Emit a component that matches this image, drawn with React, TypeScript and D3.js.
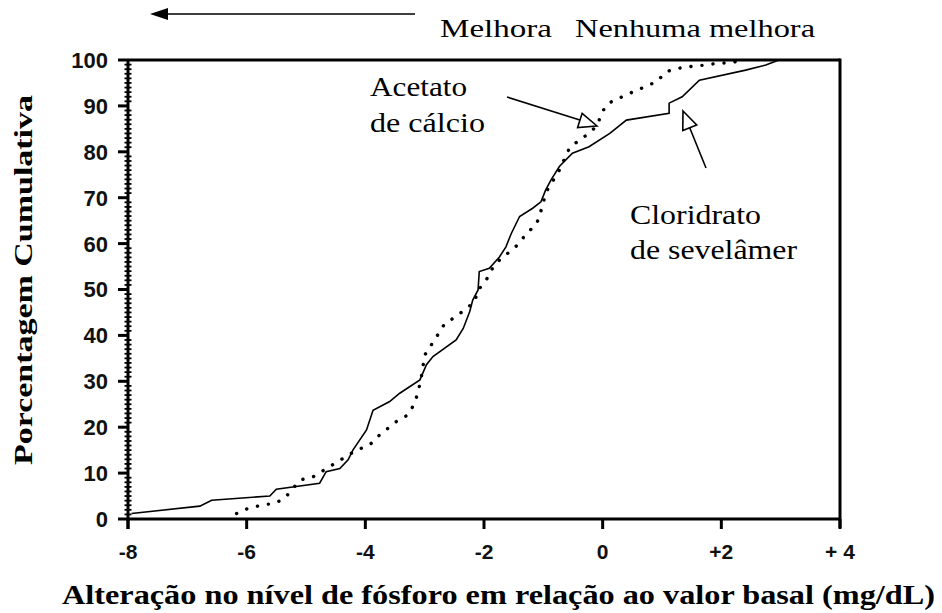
import React from 'react';
import * as d3 from 'd3';

// cloridrato de sevelâmer (solid)
const sevelamerX = [-7.94, -6.79, -6.59, -5.61, -5.5, -4.77, -4.66, -4.43, -4.29, -4.21, -3.98, -3.87, -3.59, -3.42, -3.08, -2.97, -2.86, -2.47, -2.35, -2.24, -2.19, -2.1, -2.08, -1.91, -1.74, -1.63, -1.54, -1.4, -1.18, -1.04, -0.96, -0.87, -0.73, -0.51, -0.23, 0.12, 0.4, 1.12, 1.12, 1.34, 1.63, 2.41, 2.75, 2.97];
const sevelamerY = [1.2, 2.8, 4.1, 5.0, 6.5, 7.8, 10.3, 11.0, 12.9, 15.0, 19.4, 23.7, 25.6, 27.4, 30.3, 33.6, 35.4, 39.0, 41.5, 45.2, 47.7, 49.9, 53.9, 54.6, 57.1, 59.3, 62.2, 65.9, 67.7, 69.1, 71.7, 73.9, 76.8, 79.7, 81.1, 84.0, 86.9, 88.4, 90.6, 92.0, 95.6, 97.8, 98.9, 100];

// acetato de cálcio (dotted)
const calcioX = [-6.17, -5.98, -5.72, -5.53, -5.36, -5.1, -4.88, -4.15, -3.93, -3.76, -3.48, -3.28, -3.17, -3.11, -3.06, -3.0, -2.89, -2.78, -2.66, -2.47, -2.15, -2.12, -1.96, -1.88, -1.74, -1.57, -1.4, -1.29, -1.12, -1.06, -0.95, -0.73, -0.56, -0.39, -0.23, -0.09, -0.01, 0.1, 0.33, 0.52, 0.72, 0.91, 1.08, 1.28, 1.5, 1.72, 1.95, 2.17, 2.34];
const calcioY = [1.2, 2.3, 3.1, 3.4, 4.5, 8.5, 9.2, 15.0, 16.1, 18.3, 21.2, 22.7, 25.2, 27.7, 30.6, 35.7, 37.9, 40.1, 42.6, 44.1, 47.4, 49.5, 52.1, 54.2, 56.4, 58.2, 60.1, 62.2, 64.1, 66.2, 71.3, 76.0, 80.8, 82.6, 84.0, 85.8, 88.7, 90.6, 92.0, 93.1, 94.2, 95.3, 97.5, 98.2, 98.6, 98.9, 99.3, 99.4, 100];

const xTicks = [-8, -6, -4, -2, 0, 2, 4];
const xTickLabels = ['-8', '-6', '-4', '-2', '0', '+2', '+ 4'];
const yTicks = [0, 10, 20, 30, 40, 50, 60, 70, 80, 90, 100];

const W = 942;
const H = 613;
const serif = 'Liberation Serif, DejaVu Serif, serif';
const sans = 'Liberation Sans, Arial, sans-serif';

const x = d3.scaleLinear().domain([-8, 4]).range([128, 840]);
const y = d3.scaleLinear().domain([0, 100]).range([519, 60]);

const line = d3
  .line<[number, number]>()
  .x((d) => x(d[0]))
  .y((d) => y(d[1]));

const hollowHead = (tx: number, ty: number, fx: number, fy: number, len: number, half: number) => {
  const dx = tx - fx;
  const dy = ty - fy;
  const l = Math.hypot(dx, dy);
  const ux = dx / l;
  const uy = dy / l;
  const bx = tx - ux * len;
  const by = ty - uy * len;
  return `${tx},${ty} ${bx - uy * half},${by + ux * half} ${bx + uy * half},${by - ux * half}`;
};

const serifStyle = { fontFamily: serif };

const App = () => {
  const sev = sevelamerX.map((v, i) => [v, sevelamerY[i]] as [number, number]);
  const cal = calcioX.map((v, i) => [v, calcioY[i]] as [number, number]);
  const minorY = d3.range(0, 101, 1).filter((v) => v % 10 !== 0);

  return (
    <svg width={W} height={H} style={{ position: 'absolute', left: 0, top: 0, background: '#fff' }}>
      {/* direction arrow */}
      <line x1={165} x2={415} y1={14} y2={14} stroke="#000" strokeWidth={1.6} />
      <polygon points="150,14 168,8 168,20" fill="#000" />
      <text x={440} y={37} style={serifStyle} fontSize={26} textLength={112} lengthAdjust="spacingAndGlyphs">
        Melhora
      </text>
      <text x={575} y={37} style={serifStyle} fontSize={26} textLength={240} lengthAdjust="spacingAndGlyphs">
        Nenhuma melhora
      </text>

      {/* curves */}
      <path d={line(sev) ?? ''} fill="none" stroke="#000" strokeWidth={1.6} />
      <path
        d={line(cal) ?? ''}
        fill="none"
        stroke="#000"
        strokeWidth={3.4}
        strokeDasharray="0.1 11"
        strokeLinecap="round"
      />

      {/* frame */}
      <line x1={x(-8)} x2={x(4)} y1={y(100)} y2={y(100)} stroke="#000" strokeWidth={3} />
      <line x1={x(4)} x2={x(4)} y1={y(100) - 1.5} y2={y(0) + 9} stroke="#000" strokeWidth={3} />
      <line x1={x(-8)} x2={x(4)} y1={y(0)} y2={y(0)} stroke="#000" strokeWidth={3} />
      <line x1={x(-8)} x2={x(-8)} y1={y(100)} y2={y(0) + 10} stroke="#000" strokeWidth={3} />

      {/* y axis */}
      {minorY.map((v) => (
        <line key={`m${v}`} x1={x(-8) - 3.5} x2={x(-8) + 3.5} y1={y(v)} y2={y(v)} stroke="#000" strokeWidth={1.8} />
      ))}
      {yTicks.map((v) => (
        <g key={`y${v}`}>
          <line x1={x(-8) - 10} x2={x(-8)} y1={y(v)} y2={y(v)} stroke="#000" strokeWidth={3} />
          <text
            x={108}
            y={y(v)}
            dy="0.36em"
            textAnchor="end"
            fontFamily={sans}
            fontWeight="bold"
            fontSize={22}
            fill="#111"
          >
            {v}
          </text>
        </g>
      ))}

      {/* x axis */}
      {xTicks.map((v, i) => (
        <g key={`x${v}`}>
          <line x1={x(v)} x2={x(v)} y1={y(0)} y2={y(0) + 10} stroke="#000" strokeWidth={3} />
          <text
            x={x(v)}
            y={559}
            textAnchor="middle"
            fontFamily={sans}
            fontWeight="bold"
            fontSize={21}
            fill="#111"
          >
            {xTickLabels[i]}
          </text>
        </g>
      ))}

      {/* axis titles */}
      <text
        x={62}
        y={604}
        style={serifStyle}
        fontWeight="bold"
        fontSize={27}
        textLength={873}
        lengthAdjust="spacingAndGlyphs"
      >
        Alteração no nível de fósforo em relação ao valor basal (mg/dL)
      </text>
      <text
        transform="translate(32,465) rotate(-90)"
        style={serifStyle}
        fontWeight="bold"
        fontSize={26}
        textLength={370}
        lengthAdjust="spacingAndGlyphs"
      >
        Porcentagem Cumulativa
      </text>

      {/* annotations */}
      <text x={370} y={96} style={serifStyle} fontSize={27} textLength={97} lengthAdjust="spacingAndGlyphs">
        Acetato
      </text>
      <text x={370} y={132} style={serifStyle} fontSize={27} textLength={115} lengthAdjust="spacingAndGlyphs">
        de cálcio
      </text>
      <line x1={507} y1={97} x2={583} y2={121} stroke="#000" strokeWidth={1.6} />
      <polygon points={hollowHead(597, 126, 507, 97, 18, 7.5)} fill="#fff" stroke="#000" strokeWidth={1.6} />

      <text x={630} y={224} style={serifStyle} fontSize={27} textLength={131} lengthAdjust="spacingAndGlyphs">
        Cloridrato
      </text>
      <text x={630} y={259} style={serifStyle} fontSize={27} textLength={167} lengthAdjust="spacingAndGlyphs">
        de sevelâmer
      </text>
      <line x1={706} y1={168} x2={689} y2={126} stroke="#000" strokeWidth={1.6} />
      <polygon points={hollowHead(683, 111, 706, 168, 18, 7.5)} fill="#fff" stroke="#000" strokeWidth={1.6} />
    </svg>
  );
};

export default App;
